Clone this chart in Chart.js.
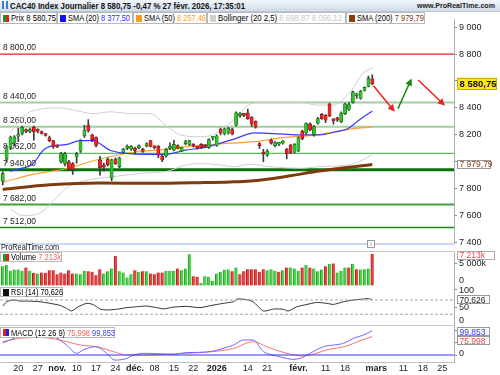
<!DOCTYPE html>
<html><head><meta charset="utf-8">
<script src="https://cdn.jsdelivr.net/npm/chart.js@4/dist/chart.umd.min.js"></script>
<style>
body{margin:0;width:500px;height:375px;overflow:hidden;background:#fff;font-family:"Liberation Sans",Arial,sans-serif;position:relative}
canvas{position:absolute;left:0}
.abs{position:absolute}
.t{display:inline-block;white-space:nowrap;transform-origin:left center}
#hdr{left:0;top:0;width:500px;height:11px;background:linear-gradient(#f2f6fb,#cfdbe8);border-bottom:1px solid #b8c6d6;z-index:3}
.box{position:absolute;border:1px solid #b9b9b9;background:#fff;z-index:3;font-size:9px;line-height:11px;box-sizing:border-box;height:12px}
.sq{position:absolute;left:2px;top:2px;width:6px;height:7px}
.box .t{position:absolute;left:10px;top:0}
.sep{position:absolute;left:0;width:455px;height:1px;z-index:2}
</style></head>
<body>
<div id="hdr" class="abs">
 <div class="abs" style="left:2px;top:1px;width:6px;height:8px;background:linear-gradient(90deg,#3a7fd0 0 2px,transparent 2px 4px,#3a7fd0 4px)"></div>
 <span class="t abs" data-w="235" style="left:10px;top:0;font-size:9.5px;line-height:11px;font-weight:bold;color:#111">CAC40 Index Journalier 8 580,75 -0,47 % 27 févr. 2026, 17:35:01</span>
 <span class="t abs" data-w="78" style="left:417px;top:0;font-size:8px;line-height:11px;font-weight:bold;color:#222">www.ProRealTime.com</span>
</div>
<div class="box" style="left:0;top:12px;width:57px"><div class="sq" style="background:linear-gradient(90deg,#1a9a1a 50%,#e02020 50%)"></div><span class="t" data-w="45">Prix 8 580,75</span></div>
<div class="box" style="left:57px;top:12px;width:76px"><div class="sq" style="background:#1010ff"></div><span class="t" data-w="62">SMA (20) <span style="color:#2a2aff">8 377,50</span></span></div>
<div class="box" style="left:133px;top:12px;width:74px"><div class="sq" style="background:#ff9a20"></div><span class="t" data-w="62">SMA (50) <span style="color:#ff9a20">8 257,46</span></span></div>
<div class="box" style="left:207px;top:12px;width:139px"><div class="sq" style="background:#d0d0d0"></div><span class="t" data-w="124">Bollinger (20 2,5) <span style="color:#c8c8c8">8 698,87 8 056,12</span></span></div>
<div class="box" style="left:346px;top:12px;width:79px"><div class="sq" style="background:#8a3c0c"></div><span class="t" data-w="67">SMA (200) <span style="color:#8a3c0c">7 979,79</span></span></div>

<div class="sep" style="top:243px;height:2px;background:#cdd6f2"></div>
<span class="t abs" data-w="58" style="left:1px;top:242px;font-size:9px;line-height:10px;color:#111;z-index:3">ProRealTime.com</span>
<div class="abs" style="left:367px;top:240px;width:6px;height:6px;border:1px solid #999;background:#fff;font-size:6px;line-height:6px;text-align:center;color:#555;z-index:3">i</div>
<div class="sep" style="top:251px;background:#c8c8c8"></div>
<div class="box" style="left:0;top:252px;width:62px;height:10px;line-height:9px"><div class="sq" style="top:1px;background:linear-gradient(90deg,#1a9a1a 50%,#e02020 50%)"></div><span class="t" data-w="50">Volume <span style="color:#f06a6a">7 213k</span></span></div>
<div class="box" style="left:0;top:287px;width:63px;height:10px;line-height:9px"><div class="sq" style="top:1px;background:#111"></div><span class="t" data-w="52">RSI (14) 70,626</span></div>
<div class="sep" style="top:325px;background:#c8c8c8"></div>
<div class="box" style="left:0;top:327px;width:115px;height:11px;line-height:10px"><div class="sq" style="top:1px;background:linear-gradient(90deg,#e02020 50%,#2020e0 50%)"></div><span class="t" data-w="104">MACD (12 26 9) <span style="color:#f06060">75,998</span> <span style="color:#4040ff">99,853</span></span></div>

<canvas id="cMain" width="500" height="238" style="top:12px"></canvas>
<canvas id="cVol" width="500" height="35" style="top:251px"></canvas>
<canvas id="cRsi" width="500" height="39" style="top:286px"></canvas>
<canvas id="cMacd" width="500" height="50" style="top:325px"></canvas>

<script>
// ---------- DATA ----------
// candles, index k = trading day (k=0 : 14 oct. 2025 ... k=95 : 27 févr. 2026)
const open  = [7857,8020,8107,8140,8190,8210,8236,8225,8257,8232,8220,8205,8179,8157,8120,8000,7985,8000,7986,8036,8079,8193,8271,8200,8179,8014,7970,8021,7879,8021,7964,8071,8100,
  8093,8090,8105,8085,8120,8157,8110,8114,8043,8043,8100,8086,8120,8079,8135,8129,8129,8105,8129,8125,8107,8175,8121,8243,8207,8214,8243,8271,8343,8350,8364,8330,8300,8125,8060,8050,8162,8119,8130,8138,8095,8124,8071,8080,8226,8214,8281,8202,8286,8352,8345,8429,8310,8326,8298,8357,8390,8441,8490,8470,8529,8560,8615];
const high  = [7925,8120,8190,8195,8250,8265,8245,8250,8265,8245,8228,8212,8190,8160,8125,8070,8070,8010,7995,8070,8165,8270,8314,8205,8185,8040,7990,8030,8020,8030,8035,8100,8125,
  8120,8110,8125,8100,8140,8160,8115,8120,8050,8100,8140,8160,8125,8110,8160,8160,8135,8110,8135,8130,8170,8185,8200,8250,8250,8255,8250,8370,8365,8360,8392,8335,8305,8143,8093,8090,8170,8150,8140,8158,8100,8130,8135,8185,8235,8290,8290,8270,8330,8360,8350,8435,8320,8330,8370,8435,8440,8525,8510,8530,8556,8636,8645];
const low   = [7829,7995,8090,8120,8150,8200,8215,8215,8160,8215,8205,8190,8150,8100,8105,7990,7970,7940,7907,7990,8070,8180,8220,8150,8110,7900,7930,7970,7860,7980,7955,8060,8090,
  8085,8060,8095,8070,8110,8110,8095,8030,8000,8035,8090,8080,8095,8075,8125,8120,8110,8095,8100,8105,8100,8160,8115,8200,8200,8205,8200,8265,8330,8335,8315,8260,8250,8100,8000,8040,8130,8110,8120,8130,8021,8060,8065,8075,8165,8205,8230,8190,8280,8315,8290,8335,8280,8300,8290,8350,8380,8435,8470,8465,8525,8555,8570];
const close = [7914,8110,8184,8185,8200,8255,8225,8240,8221,8228,8210,8195,8157,8114,8110,8064,8060,7950,7943,8057,8157,8236,8229,8164,8121,7957,7960,7979,8014,7986,8029,8093,8110,
  8114,8085,8115,8078,8128,8114,8105,8050,8014,8093,8110,8129,8100,8107,8150,8157,8114,8100,8107,8110,8164,8180,8193,8214,8243,8250,8207,8364,8357,8345,8321,8280,8257,8120,8057,8079,8138,8143,8132,8152,8060,8066,8131,8179,8171,8286,8238,8262,8321,8321,8309,8340,8305,8309,8362,8429,8425,8519,8495,8524,8552,8619,8580.75];
const volume = [4480,4710,3420,3720,3720,3420,4180,3420,2970,2810,3040,2970,3570,3570,2660,3040,2810,3570,2810,2810,2660,3420,3350,3190,2440,3800,2810,3350,3950,6760,3350,3040,1900,
  2660,3570,3190,3350,3350,2810,2660,3040,3040,3420,3420,3420,3950,3570,3950,7150,2210,2060,690,2210,2060,1150,2810,3190,3720,3720,3350,4180,2660,3350,3800,3800,3800,3190,3800,3570,3800,3420,3190,3570,4180,4180,3950,3420,4180,4710,4180,3950,3350,3720,4480,4940,5090,3040,3420,4180,4180,4940,3800,3720,3800,3950,7213];
// indicator lines: [k, value]
const sma20 = [[1.9,7930],[4,7945],[7.8,7986],[10.4,8086],[12.2,8114],[16.5,8129],[19.9,8157],[23.2,8157],[27.6,8086],[31.4,8064],[36.6,8055],[41.7,8055],[46.9,8086],[52,8107],[59,8164],[64.9,8214],[71.3,8207],[76.4,8200],[81.6,8200],[85.4,8221],[88.5,8243],[91.8,8314],[95,8377.5]];
const sma50 = [[0,7848],[7.8,7907],[16.5,7950],[25,8021],[33.5,8071],[39.9,8086],[48.7,8117],[57.1,8136],[64.9,8150],[72,8179],[80.8,8200],[89.3,8243],[95,8257.46]];
const sma200 = [[0,7795],[12.2,7829],[25,7843],[37.9,7840],[50.7,7845],[58.4,7850],[63.6,7857],[73.9,7896],[80.8,7929],[95,7979.79]];
const bollUp = [[1.9,8214],[5.2,8336],[8.8,8386],[14.7,8400],[19.1,8379],[23.2,8357],[27.6,8371],[33.5,8357],[37.9,8357],[42.2,8264],[45.6,8200],[50.8,8186],[55.1,8214],[59.2,8307],[62.8,8414],[66.1,8443],[72.6,8443],[76.4,8443],[80.8,8421],[84.9,8421],[87.5,8464],[90.1,8550],[92.6,8657],[95,8698.87]];
const bollDn = [[1.9,7650],[5.2,7600],[9.6,7621],[16.5,7807],[20.6,7857],[25,7879],[29.4,7893],[35.3,7914],[42.2,7929],[47.4,7979],[50.7,7986],[55.1,7979],[59.2,7964],[63.6,7981],[68.7,7964],[76.4,7952],[81.6,7964],[89.3,7979],[92.6,8014],[95,8056.12]];
const rsi = [[0,53],[1,65],[2.7,70],[4.4,67],[6.2,67],[9.6,65],[12.2,60.5],[14.7,55],[16.4,46.6],[17.7,39],[19.4,51],[21.6,60.5],[23.3,57],[25,44.7],[26.7,42],[29.3,44],[31.9,48.5],[34.4,51],[37,53],[39.6,48.5],[41.3,45],[43.9,50],[47.3,52],[50.7,48.5],[53.3,54],[56.7,60.5],[59.3,65],[60.2,72.6],[62.7,71],[64.4,65],[67,39],[69.6,44.7],[72.1,44],[73.4,39],[75.6,51],[78.2,57.5],[80.7,63],[83.3,60.5],[85,57.5],[87.6,65],[90.2,70],[92.7,72.6],[94,74],[95,70.626]];
const macd = [[0,50],[1.9,62],[4.4,78],[7.9,88],[11,86],[13.9,70],[16.4,41],[19,7],[20.7,21],[23.7,34],[25,28],[26.7,7],[28.9,-21],[31.9,-14],[33.6,0],[37,7],[40.4,5],[43.9,3],[47.3,10],[50.7,11],[54.1,16],[57.6,32],[59.3,41],[61.9,62],[64.4,62],[67,14],[70.4,-4],[73,-14],[74.7,-18],[76.4,-14],[79,7],[82.4,34],[85,41],[87.6,48],[90.2,69],[92.7,82],[95,99.853]];
const signal = [[0,55],[5,70],[10,72],[16.4,55],[19.9,41],[24.2,34],[28.4,14],[31.9,0],[36,0],[42.1,3],[47.3,7],[54.1,14],[59.3,27],[64.4,55],[67.9,34],[73,7],[77.3,-4],[79.8,3],[83.3,21],[88.4,37],[91.9,59],[95,75.998]];
// support / resistance levels
const levels = [8800,8440,8260,8062,7940,7682,7512];
const levelLabels = ['8 800,00','8 440,00','8 260,00','8 062,00','7 940,00','7 682,00','7 512,00'];
// drawn arrows [k1, price1, k2, price2]
const arrows = [[95.3,8565,100.8,8371],[101.6,8395,105.1,8619],[106.8,8607,113.7,8416]];
// x axis
const tickPos = [4,9,14,19,24,29,34,39,44,49,55,63,68,76,83,88,96,103,108,113];
const tickLabels = ['20','27','nov.','10','17','24','déc.','08','15','22','2026','14','21','févr.','11','18','mars','11','18','25'];
const monthLabels = ['nov.','déc.','2026','févr.','mars'];
const priceTicksHidden = [8600,8000];

// ---------- STYLE ----------
const levelColors = ['#ee2020','#9fd09f','#9fd09f','#5cbb5c','#0b700b','#3fa23f','#128a12'];
const levelWidths = [1.2,2.2,2.2,1.2,3,2,1.6];
const arrowColors = ['#ee2020','#148a14','#ee2020'];
const UP='#2fc42f', DN='#ee2424';
const X_MIN=-0.7, X_MAX=116;
const FONT='"Liberation Sans", Arial, sans-serif';
Chart.defaults.font.family=FONT; Chart.defaults.font.size=9; Chart.defaults.color='#222';

const fmt=(v,d)=>{let s=Number(v).toFixed(d||0).replace('.',',');let [a,b]=s.split(',');a=a.replace(/\B(?=(\d{3})+(?!\d))/g,' ');return b?a+','+b:a;};
const pts=a=>a.map(p=>({x:p[0],y:p[1]}));
const line=(a,color,w,ord,extra)=>Object.assign({type:'line',data:pts(a),borderColor:color,borderWidth:w,pointRadius:0,cubicInterpolationMode:'monotone',order:ord},extra||{});
const xHidden={type:'linear',min:X_MIN,max:X_MAX,offset:false,display:false};
const yRight=(min,max,extra)=>Object.assign({position:'right',min:min,max:max,
  grid:{drawOnChartArea:false,tickLength:3,color:'#888'},border:{display:true,color:'#b0b0b0'},
  afterFit:s=>{s.width=46;}},extra||{});

function drawBox(ctx,xL,yC,text,o){
  ctx.save();ctx.font=(o.bold?'bold ':'')+(o.size||9)+'px '+FONT;
  const w=o.w||ctx.measureText(text).width+5;const h=o.h||10;
  ctx.fillStyle=o.bg||'#fff';ctx.fillRect(xL,yC-h/2,w,h);
  ctx.strokeStyle=o.border||'#aaa';ctx.lineWidth=1;ctx.strokeRect(Math.round(xL)+0.5,Math.round(yC-h/2)+0.5,w-1,h-1);
  ctx.fillStyle=o.fg||'#222';ctx.textBaseline='middle';ctx.textAlign='left';ctx.fillText(text,xL+2.5,yC+0.5);
  ctx.restore();
}
function drawLabels(chart,specs){
  const ctx=chart.ctx,ys=chart.scales.y,ca=chart.chartArea;
  ctx.save();ctx.font='9px '+FONT;ctx.fillStyle='#222';ctx.textBaseline='middle';ctx.textAlign='left';
  specs.forEach(s=>ctx.fillText(s[1],ca.right+5,ys.getPixelForValue(s[0])+(s[2]||0)));
  ctx.restore();
}
const baseOpts=()=>({responsive:false,animation:false,events:[],layout:{padding:0},plugins:{legend:{display:false},tooltip:{enabled:false}}});

try{
// ---------- MAIN PRICE CHART ----------
const mainPlugin={id:'mainDeco',
  beforeDatasetsDraw(chart){
    const ctx=chart.ctx,ys=chart.scales.y;
    ctx.save();ctx.font='8.5px '+FONT;ctx.fillStyle='#222';ctx.textBaseline='alphabetic';
    levels.forEach((v,i)=>ctx.fillText(levelLabels[i],3,ys.getPixelForValue(v)-4));
    ctx.restore();
  },
  afterDatasetsDraw(chart){
    const ctx=chart.ctx,xs=chart.scales.x,ys=chart.scales.y;
    arrows.forEach((a,i)=>{
      const x1=xs.getPixelForValue(a[0]),y1=ys.getPixelForValue(a[1]),x2=xs.getPixelForValue(a[2]),y2=ys.getPixelForValue(a[3]);
      const ang=Math.atan2(y2-y1,x2-x1),L=8;
      ctx.save();ctx.strokeStyle=arrowColors[i];ctx.fillStyle=arrowColors[i];ctx.lineWidth=1.5;
      ctx.beginPath();ctx.moveTo(x1,y1);ctx.lineTo(x2-Math.cos(ang)*5,y2-Math.sin(ang)*5);ctx.stroke();
      ctx.beginPath();ctx.moveTo(x2,y2);ctx.lineTo(x2-L*Math.cos(ang-0.45),y2-L*Math.sin(ang-0.45));ctx.lineTo(x2-L*Math.cos(ang+0.45),y2-L*Math.sin(ang+0.45));ctx.closePath();ctx.fill();
      ctx.restore();
    });
  },
  afterDraw(chart){
    const ys=chart.scales.y,ca=chart.chartArea,ctx=chart.ctx;
    const last=close[close.length-1];
    drawBox(ctx,ca.right+3,ys.getPixelForValue(last),fmt(last,2),{bg:'#ffe81a',border:'#c8b000',fg:'#111',bold:true,size:9.5,w:40,h:12});
    const s200=sma200[sma200.length-1][1];
    drawBox(ctx,ca.right+3,ys.getPixelForValue(s200),fmt(s200,2),{bg:'#fff',border:'#999',fg:'#8a3c0c',size:8.5,w:34,h:9});
  }
};
const mainDatasets=[
  ...levels.map((v,i)=>({type:'line',data:[{x:X_MIN,y:v},{x:X_MAX,y:v}],borderColor:levelColors[i],borderWidth:levelWidths[i],pointRadius:0,order:30})),
  line(bollUp,'#cfcfcf',1,20),
  line(bollDn,'#cfcfcf',1,20),
  line(sma200,'#7f3a0e',3,18),
  line(sma50,'#ffa030',1.2,16),
  line(sma20,'#3a3aff',1.2,15),
  {type:'bar',data:close.map((c,k)=>({x:k,y:[low[k],high[k]]})),backgroundColor:'#3a3a3a',barThickness:1,grouped:false,order:3},
  {type:'bar',data:close.map((c,k)=>({x:k,y:[open[k],c]})),backgroundColor:close.map((c,k)=>c>=open[k]?UP:DN),
   borderColor:close.map((c,k)=>c>=open[k]?'#1b5e1b':'#7a1414'),borderWidth:0.6,borderSkipped:false,barThickness:3.2,minBarLength:2,grouped:false,order:1}
];
const mo=baseOpts();mo.layout={padding:{bottom:6,top:0,left:0,right:0}};
mo.scales={x:xHidden,y:yRight(7400,9057.14,{ticks:{stepSize:200,includeBounds:false,padding:2,font:{size:9},callback:v=>priceTicksHidden.includes(v)?'':fmt(v)}})};
new Chart(document.getElementById('cMain'),{type:'bar',data:{datasets:mainDatasets},options:mo,plugins:[mainPlugin]});
}catch(e){console.log(e);}

try{
// ---------- VOLUME ----------
const vo=baseOpts();
vo.scales={x:xHidden,y:yRight(0,7895,{ticks:{display:false},afterBuildTicks:s=>{s.ticks=[{value:0},{value:5000}];}})};
const upVol=volume.map((v,k)=>k===0?close[k]>=open[k]:close[k]>=close[k-1]);
new Chart(document.getElementById('cVol'),{type:'bar',
  data:{datasets:[{data:volume.map((v,k)=>({x:k,y:v})),
    backgroundColor:upVol.map(u=>u?'#4fd24f':'#e64545'),
    borderColor:upVol.map(u=>u?'#1f9a1f':'#b01e1e'),borderWidth:{left:1,right:0,top:0,bottom:0},borderSkipped:false,
    barThickness:3,grouped:false}]},
  options:vo,
  plugins:[{id:'volLab',afterDraw(chart){
    drawLabels(chart,[[5000,'5 000k',0],[0,'0',-5]]);
    const ys=chart.scales.y,v=volume[volume.length-1];
    drawBox(chart.ctx,chart.chartArea.right+3,ys.getPixelForValue(v)+1,fmt(v)+'k',{fg:'#ee4444',border:'#aaa',size:8.5,w:38,h:9});
  }}]});
}catch(e){console.log(e);}

try{
// ---------- RSI ----------
const ro=baseOpts();
ro.scales={x:xHidden,y:yRight(0,109,{ticks:{display:false},afterBuildTicks:s=>{s.ticks=[{value:0},{value:50},{value:100}];}})};
new Chart(document.getElementById('cRsi'),{type:'line',
  data:{datasets:[
    {data:[{x:X_MIN,y:70},{x:X_MAX,y:70}],borderColor:'#a8a8a8',borderWidth:1,borderDash:[3,2],pointRadius:0},
    {data:[{x:X_MIN,y:30},{x:X_MAX,y:30}],borderColor:'#a8a8a8',borderWidth:1,borderDash:[3,2],pointRadius:0},
    line(rsi,'#333',1,0,{cubicInterpolationMode:'default',tension:0.2})]},
  options:ro,
  plugins:[{id:'rsiLab',afterDraw(chart){
    drawLabels(chart,[[100,'100',1.5],[50,'50',0.5],[0,'0',-4]]);
    const ys=chart.scales.y,v=rsi[rsi.length-1][1];
    drawBox(chart.ctx,chart.chartArea.right+3,ys.getPixelForValue(v),fmt(v,3),{fg:'#222',border:'#999',size:8.5,w:33,h:9});
  }}]});
}catch(e){console.log(e);}

try{
// ---------- MACD + X AXIS ----------
const mco=baseOpts();
mco.scales={
  x:{type:'linear',min:X_MIN,max:X_MAX,offset:false,position:'bottom',
    grid:{display:false},border:{display:true,color:'#c0c0c0'},
    afterBuildTicks:s=>{s.ticks=tickPos.map(v=>({value:v}));},
    afterFit:s=>{s.height=13;},
    ticks:{display:false,autoSkip:false,maxRotation:0,minRotation:0}},
  y:yRight(-28.8,123.5,{ticks:{display:false},afterBuildTicks:s=>{s.ticks=[{value:0},{value:50},{value:100}];}})};
new Chart(document.getElementById('cMacd'),{type:'line',
  data:{datasets:[
    {data:[{x:X_MIN,y:0},{x:X_MAX,y:0}],borderColor:'#3333ee',borderWidth:1,pointRadius:0},
    line(signal,'#ff7070',1,2),
    line(macd,'#6a6aff',1,1)]},
  options:mco,
  plugins:[{id:'macdLab',afterDraw(chart){
    drawLabels(chart,[[0,'0',-1],[50,'50',0]]);
    const ys=chart.scales.y,xs=chart.scales.x,ca=chart.chartArea,ctx=chart.ctx;
    const vb=macd[macd.length-1][1],vr=signal[signal.length-1][1];
    const yb=ys.getPixelForValue(vb)+1,yr=Math.max(ys.getPixelForValue(vr),yb+9);
    drawBox(ctx,ca.right+3,yb,fmt(vb,3),{fg:'#3434ff',border:'#999',size:8.5,w:33,h:9});
    drawBox(ctx,ca.right+3,yr,fmt(vr,3),{fg:'#ee4444',border:'#999',size:8.5,w:33,h:9});
    // x-axis tick labels positioned by the x scale
    ctx.save();ctx.fillStyle='#222';ctx.textAlign='center';ctx.textBaseline='middle';
    tickPos.forEach((p,i)=>{
      ctx.font=(monthLabels.includes(tickLabels[i])?'bold ':'')+'9px '+FONT;
      ctx.fillText(tickLabels[i],xs.getPixelForValue(p),ca.bottom+6.5);
    });
    ctx.restore();
  }}]});
}catch(e){console.log(e);}

// fit text widths to the reference
document.querySelectorAll('[data-w]').forEach(el=>{const w=el.getBoundingClientRect().width;el.style.transform='scaleX('+(+el.dataset.w/w)+')';});
</script>
</body></html>
